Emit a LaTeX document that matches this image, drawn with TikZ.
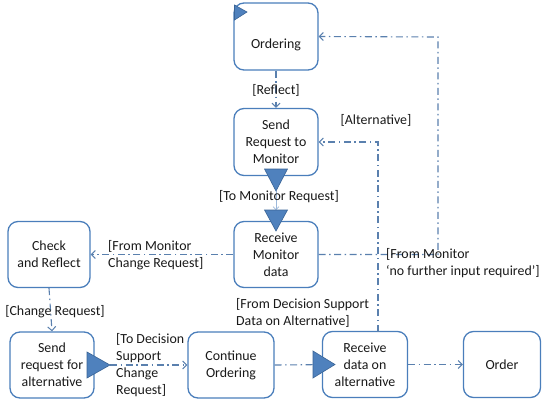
\documentclass[tikz,border=0pt]{standalone}
\usepackage{fontspec}
\setmainfont{Carlito}
\usetikzlibrary{arrows.meta}
\definecolor{boxc}{HTML}{4A7EBB}
\definecolor{linec}{HTML}{5A80AE}
\definecolor{trif}{HTML}{4F81BD}
\definecolor{trid}{HTML}{3A6496}
\definecolor{thinc}{HTML}{9DB9DB}
\begin{document}
\begin{tikzpicture}[x=1pt,y=-1pt,
  every node/.style={font=\fontsize{13.9}{17}\selectfont, text=black!90},
  box/.style={draw=boxc, line width=1.3pt, rounded corners=10pt, fill=white, align=center, minimum width=84pt, minimum height=66pt, inner sep=2pt},
  flow/.style={draw=linec, line width=1.1pt, dash pattern=on 7pt off 3.5pt on 1.5pt off 3.5pt},
  arr/.style={-{Straight Barb[length=4pt,width=8pt,line width=1pt]}},
  lab/.style={align=left, inner sep=0pt, anchor=north west},
  tri/.style={fill=trif, draw=trid, line width=0.6pt, line join=miter}
]
\useasboundingbox (0,0) rectangle (550,405);

% boxes
\node[box, minimum height=67pt] (ord) at (276,36.5) {};
\node (ordt) at (276,45) {Ordering};
\node[box, minimum height=67pt] (srm) at (276,142) {Send\\Request to\\Monitor};
\node[box] (rmd) at (276,254.5) {Receive\\Monitor\\data};
\node[box, minimum width=82pt] (chk) at (49,254.5) {Check\\and Reflect};
\node[box] (sra) at (52,365) {Send\\request for\\alternative};
\node[box, minimum width=86pt] (cont) at (231,365) {Continue\\Ordering};
\node[box, minimum width=85pt] (rda) at (365,364.5) {Receive\\data on\\alternative};
\node[box, minimum width=77pt] (ordr) at (502,364.5) {Order};

% coordinates
\coordinate (c1) at (438,254.5);
\coordinate (c2) at (438,37);
\coordinate (c3) at (378,142);
\coordinate (rdatop) at (378,331.5);
\coordinate (srmtip) at (276,191);
\coordinate (rmdtop) at (276,210);
\coordinate (sratip) at (110,365);
\coordinate (rdatip) at (335,364.5);

% connectors
\draw[flow,arr] (ord.south) -- (srm.north);
\draw[flow,arr] (rmd.west) -- (chk.east);
\draw[flow,arr] (rmd.east) -- (c1) -- (c2) -- (ord.east);
\draw[flow,arr] (chk.south) -- (sra.north);
\draw[flow,arr] (sratip) -- (cont.west);
\draw[flow] (cont.east) -- (rdatip);
\draw[flow,arr] (rdatop) -- (c3) -- (srm.east);
\draw[flow,arr] (rda.east) -- (ordr.west);
\draw[draw=thinc, line width=0.7pt, -{Straight Barb[length=3pt,width=6pt]}] (srmtip) -- (rmdtop);

% triangles
\draw[tri] (234.5,5) -- (247,12) -- (234.5,20) -- cycle;
\draw[tri] (264.5,169) -- (287.5,169) -- (srmtip) -- cycle;
\draw[tri] (264.5,210) -- (287.5,210) -- (276,231) -- cycle;
\draw[tri] (87,352) -- (sratip) -- (87,378) -- cycle;
\draw[tri] (313,351) -- (rdatip) -- (313,378) -- cycle;

% labels
\node (lreflect) at (276,90) {[Reflect]};
\node (ltomon) at (279,197) {[To Monitor Request]};
\node[lab] (lfmcr) at (108,240) {[From Monitor\\Change Request]};
\node (lalt) at (376,120) {[Alternative]};
\node[lab] (lfmno) at (386,248) {[From Monitor\\‘no further input required’]};
\node (lcr) at (55,312) {[Change Request]};
\node[lab] (lfds) at (236,298) {[From Decision Support\\Data on Alternative]};
\node[lab] (ltds) at (116,333.5) {[To Decision\\Support\\Change\\Request]};
\end{tikzpicture}
\end{document}
